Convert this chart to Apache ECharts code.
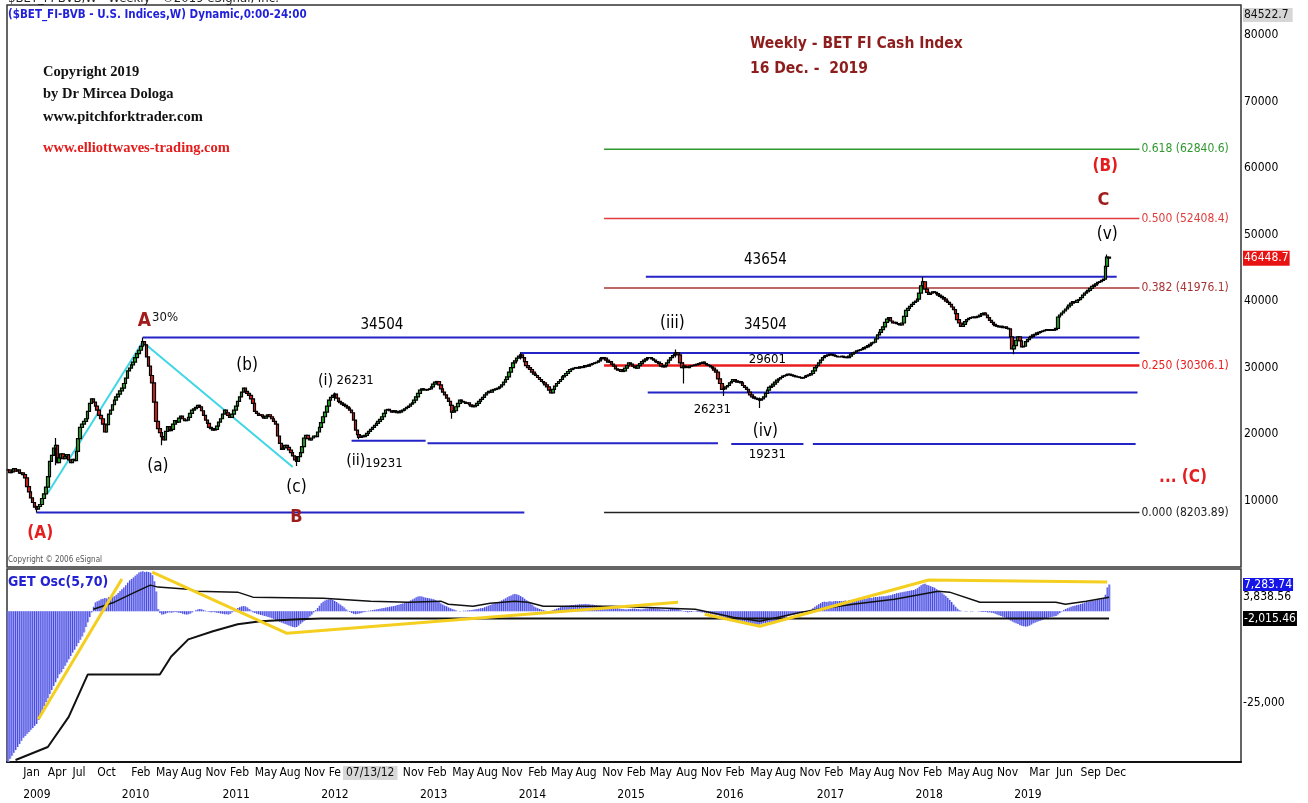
<!DOCTYPE html>
<html>
<head>
<meta charset="utf-8">
<title>BET FI Weekly</title>
<style>
  html, body { margin: 0; padding: 0; background: #fff; }
  #main { width: 1308px; height: 803px; }
</style>
</head>
<body>
<div id="main"></div>
<script src="https://cdn.jsdelivr.net/npm/echarts@6.0.0/dist/echarts.min.js"></script>
<script>
// weekly closes from 2008-11-07 to 2019-12-20
var closes = [
  14600,14200,14300,14800,14400,14600,14100,14150,13900,13400,
  12100,11300,10400,9700,9000,8700,9100,9400,10300,11000,
  12000,13600,15900,16800,17900,18300,15700,16400,17000,16300,
  16600,16900,16100,15700,16200,16000,17400,19300,21000,21500,
  21900,22300,23400,24600,25300,24800,24200,23600,22800,22300,
  21500,20300,21400,23000,23600,24400,25100,25600,26000,26500,
  26900,27600,28400,29500,29900,30400,30800,31500,32100,32600,
  33200,33900,33400,31600,30200,28800,27700,24800,21900,20800,
  20200,19600,19100,20400,21100,20500,20700,21500,22000,21800,
  22400,22700,22300,22000,22100,22500,23100,23600,23800,24000,
  24300,24100,23500,22800,22100,21600,21000,20800,20600,20700,
  21200,21800,22300,23000,23600,23200,22800,22500,23000,23600,
  24200,24900,25600,26300,26900,26400,26100,25800,25300,24600,
  23400,23100,22800,22900,22600,22400,22700,22900,22600,22300,
  21900,21500,19700,18600,17700,17900,18300,18000,17600,17200,
  16700,16100,15900,16600,17200,18100,19400,19800,19300,19100,
  19400,19700,19600,20300,21000,21700,22600,23300,24200,25100,
  25500,25800,26000,25400,24900,24700,24500,24300,24100,23900,
  23600,23200,22100,20600,19900,19500,19700,19600,19800,20100,
  20400,20700,21000,21300,21600,21900,22200,22600,23100,23600,
  23700,23500,23300,23500,23400,23200,23300,23500,23600,23800,
  24000,24200,24500,24700,25100,25600,26100,26600,26800,26700,
  26600,26700,26800,27100,27500,27800,27900,27400,26800,26300,
  25900,25400,24900,24300,23300,23500,24100,24600,25100,24900,
  24800,24600,24700,24400,24200,24100,24300,24600,24900,25200,
  25500,25900,26200,26400,26300,26600,26700,26800,26900,27100,
  27400,27800,28200,28600,29300,30000,30700,31000,31400,31700,
  31900,31500,30900,30300,30000,29700,29300,29000,28800,28500,
  28200,27900,27700,27400,27100,26600,26200,26700,27200,27600,
  27900,28200,28600,28800,29100,29400,29700,29800,29900,30000,
  29900,30100,30000,30100,30300,30200,30400,30500,30600,30700,
  30800,31000,31300,31500,31400,31100,30800,30900,30500,30200,
  29800,29600,29700,29400,29500,29900,30300,30700,30500,30200,
  30000,29900,30300,30600,30900,31100,31300,31500,31500,31300,
  31100,30900,30800,30600,30200,30100,30300,30700,31100,31500,
  31800,32000,32200,31900,30700,30000,30200,30100,30000,30200,
  30300,30300,30400,30500,30600,30700,30800,30600,30400,30300,
  30100,29900,29600,29300,28300,27600,26700,26800,27100,27300,
  27700,27900,28200,28000,27800,27900,27700,27300,27000,26700,
  26300,25900,25600,25400,25300,25200,25100,25300,25600,26100,
  26600,27000,27200,27500,27800,28100,28300,28500,28700,28800,
  28900,29000,28900,28800,28700,28600,28600,28500,28400,28500,
  28700,28800,28900,29100,29500,30000,30300,30700,31100,31500,
  31700,31800,31900,32000,31900,31800,31700,31600,31600,31700,
  31600,31500,31500,31700,32000,32200,32300,32500,32600,32700,
  32800,33000,33100,33300,33500,33700,33800,34300,34900,35300,
  35700,36100,36800,37300,37500,37000,36700,36800,36600,36500,
  36400,36700,37700,38600,38900,39200,39500,39800,40000,40300,
  41200,42300,42900,41800,41300,41000,41200,41400,41300,41100,
  40900,40700,40500,40300,40000,39800,39500,39100,38700,38100,
  37200,36700,36200,36500,36900,37200,37400,37500,37600,37500,
  37600,37700,37900,38100,38200,37900,37500,37100,36800,36500,
  36300,36200,36100,36200,36000,36100,35900,35800,34600,32800,
  33300,34100,34600,34000,33100,33200,33900,34200,34500,34700,
  34900,35000,35200,35300,35400,35500,35600,35700,35600,35700,
  35600,35700,35900,37600,37900,38200,38500,38800,39100,39400,
  39700,39900,39800,40100,40200,40500,40900,41200,41400,41600,
  41900,42200,42400,42600,42800,42900,43100,43300,45200,46600,46448.7
];

// long wicks that stick out of the line: [week, low, high]
var wicks = [
  [15, 8204, 9200], [25, 15300, 19400], [71, 32900, 34504], [81, 18300, 20300],
  [152, 15200, 16700], [172, 25000, 26231], [185, 19231, 20000], [234, 22300, 24500],
  [270, 31200, 32300], [352, 31500, 32700], [356, 27600, 30800], [377, 25700, 27400],
  [396, 23900, 25500], [482, 41900, 43654], [530, 32000, 34600], [579, 44800, 47000]
];

// GET Osc(5,70) histogram, one value per week
var oscHist = [
  -41200,-40300,-39500,-38700,-37900,-37100,-36300,-35400,-34600,-34100,
  -33500,-33000,-32400,-31900,-31300,-30800,-29700,-28400,-27100,-25900,
  -24800,-23800,-22600,-21500,-20400,-19400,-18300,-17200,-16700,-15800,
  -14900,-14000,-13100,-12200,-11300,-10500,-9600,-8700,-7800,-6900,
  -5800,-4300,-3000,-1600,-300,1200,2400,2700,2900,3300,
  3400,3600,3500,3800,3900,4000,4100,4500,5000,5500,
  6000,6500,7100,7800,8400,8800,9200,9700,10100,10600,
  10800,10900,10700,10800,10700,10500,9800,8200,5400,600,
  -500,-900,-800,-600,-400,-300,-400,-300,-200,-300,
  -400,-500,-700,-800,-900,-800,-600,-300,0,300,
  500,600,500,300,100,-100,-200,-300,-200,-300,
  -400,-500,-600,-700,-800,-800,-900,-700,-300,200,
  600,900,1100,1300,1400,1300,1000,600,200,-300,
  -500,-700,-800,-1000,-1100,-1300,-1400,-1600,-1700,-1900,
  -2100,-2400,-2700,-2900,-3100,-3300,-3500,-3700,-3900,-4100,
  -4300,-4400,-4300,-3900,-3400,-3000,-2600,-2200,-1800,-1400,
  -900,-300,300,900,1500,2200,2600,2900,3100,3200,
  3300,3100,2800,2500,2100,1800,1400,1000,500,100,
  -200,-500,-700,-800,-700,-600,-500,-300,-200,-100,
  100,200,300,400,500,600,700,800,900,1000,
  1100,1200,1300,1400,1500,1700,1800,2000,2100,2300,
  2400,2600,2900,3200,3500,3800,4000,4100,4000,3800,
  3700,3600,3500,3400,3300,3100,2800,2500,2100,1800,
  1500,1300,1000,800,600,400,200,0,-100,0,
  100,100,200,300,300,400,500,600,700,800,
  900,1100,1300,1500,1700,1900,2100,2300,2400,2600,
  2900,3200,3500,3800,4100,4300,4600,4700,4600,4400,
  4100,3800,3400,3000,2600,2200,1800,1300,1000,800,
  600,400,300,100,0,0,100,300,500,700,
  900,1100,1300,1400,1500,1500,1600,1700,1700,1800,
  1800,1900,1900,1900,2000,1900,1900,1800,1800,1700,
  1600,1500,1500,1400,1400,1300,1200,1100,1000,900,
  800,800,700,600,600,500,500,600,600,700,
  700,600,600,500,500,600,700,700,800,800,
  800,700,700,600,500,500,400,400,500,600,
  700,700,800,600,300,100,-100,-200,-300,-200,
  -200,-100,-100,-200,-200,-300,-300,-400,-500,-600,
  -700,-800,-900,-1000,-1100,-1300,-1500,-1700,-1700,-1900,
  -2000,-2100,-2200,-2300,-2400,-2500,-2600,-2700,-2900,-3100,
  -3300,-3400,-3500,-3600,-3600,-3700,-3600,-3400,-3300,-3200,
  -3100,-3000,-2900,-2800,-2700,-2600,-2400,-2200,-2000,-1800,
  -1500,-1300,-1100,-900,-800,-600,-500,-400,-300,-200,
  -100,0,0,400,800,1200,1600,1900,2200,2500,
  2600,2500,2600,2700,2600,2700,2800,2700,2800,2700,
  2800,2900,2800,3000,3100,3000,3100,3200,3300,3300,
  3400,3500,3400,3600,3700,3600,3800,3900,3900,4000,
  4000,4100,4100,4200,4300,4400,4600,4700,4900,5000,
  5100,5200,5300,5400,5500,5600,5700,5800,6000,6300,
  6700,7100,7400,7500,7200,7000,6800,6600,6400,6000,
  5600,5200,4900,4500,4100,3600,3100,2500,1800,1200,
  700,300,100,0,-100,-100,0,-100,-100,0,
  0,-100,-100,-200,-200,-200,-300,-300,-400,-500,
  -700,-900,-1100,-1300,-1500,-1700,-1900,-2200,-2500,-2800,
  -3100,-3300,-3500,-3800,-4000,-4100,-4200,-4100,-3900,-3600,
  -3300,-3100,-2900,-2700,-2500,-2300,-2100,-1900,-1700,-1600,
  -1500,-1400,-1300,-900,-500,-100,300,600,800,1000,
  1200,1400,1500,1700,1800,2000,2100,2300,2500,2600,
  2700,2800,2900,3000,3100,3200,3300,3500,4500,6500,7283.74
];

// the two black oscillator lines, [week, value] at their turns
var oscUpper = [[45,550],[56,2470],[67,5220],[75,7140],[79,6590],[95,6040],[99,5490],[121,5220],
  [129,3850],[166,3570],[191,2750],[211,2470],[228,2750],[232,1920],[245,1370],[254,2200],
  [267,2750],[274,2470],[282,1370],[318,1370],[333,1100],[362,550],[382,-1650],[396,-2750],
  [418,-270],[427,550],[445,1920],[467,3300],[490,5490],[496,5220],[512,2470],[552,2470],
  [557,1920],[568,2750],[580,3838.56]];
var oscLower = [[4,-40660],[21,-37090],[32,-28850],[42,-17310],[80,-17310],[86,-12360],[95,-7690],
  [108,-5490],[121,-3570],[133,-2750],[153,-2200],[165,-2015.46],[580,-2015.46]];

// yellow trend lines on the oscillator
var oscTrends = [
  [[16,-29500],[60,8800]],
  [[76,10710],[147,-6040],[353,2470]],
  [[367,-820],[396,-4120],[485,8520],[579,7970]]
];

// fibonacci levels
var fibLevels = [['0.618',62840.6],['0.500',52408.4],['0.382',41976.1],['0.250',30306.1],['0.000',8203.89]];
var fibWeeks = [314, 596];

// blue support / resistance lines: [from week, to week, value]
var blueLines = [[15,272,8204],[71,596,34504],[270,596,32190],[337,595,26231],[336,584,43654],
  [181,220,19000],[221,374,18600],[381,419,18500],[424,594,18500]];

// zigzag of the first leg
var zigzag = [[21,11130],[71,33840],[150,15040]];

// wave counts and numbers: [text, week, value]
var waveLabels = [
  ['A30%',79,37000],['34504',197,36400],['34504',399,36400],['(iii)',350,36550],
  ['43654',399,46170],['29601',400,31130],['26231',371,23610],['(iv)',399,20300],
  ['19231',400,16840],['(b)',126,30230],['(a)',79,15040],['(c)',152,11880],
  ['B',152,7520],['(A)',17,4960],['(i) 26231',178,27970],['(ii)19231',193,15940],
  ['(v)',579,49930],['C',577,55200],['(B)',578,60160],['... (C)',619,13390]
];

var monthTicks = ['2009-01','2009-04','2009-07','2009-10',
  '2010-02','2010-05','2010-08','2010-11','2011-02','2011-05','2011-08','2011-11',
  '2012-02','2012-11','2013-02','2013-05','2013-08','2013-11','2014-02','2014-05','2014-08','2014-11',
  '2015-02','2015-05','2015-08','2015-11','2016-02','2016-05','2016-08','2016-11',
  '2017-02','2017-05','2017-08','2017-11','2018-02','2018-05','2018-08','2018-11',
  '2019-03','2019-06','2019-09','2019-12'];
var yearTicks = ['2009','2010','2011','2012','2013','2014','2015','2016','2017','2018','2019'];
var monthNames = ['Jan','Feb','Mar','Apr','May','Jun','Jul','Aug','Sep','Oct','Nov','Dec'];

var FONT = '"Liberation Sans Narrow", "DejaVu Sans Condensed", "Liberation Sans", Arial, sans-serif';
var N_WEEKS = 650;
var weeks = [];
var start = Date.UTC(2008, 10, 7);
for (var i = 0; i < N_WEEKS; i++) {
  weeks.push(new Date(start + i * 7 * 86400000).toISOString().slice(0, 10));
}

// first week of each labelled month / year
var monthIdx = {}, yearIdx = {};
for (var i = 0; i < weeks.length; i++) {
  var ym = weeks[i].slice(0, 7), prev = i ? weeks[i - 1].slice(0, 7) : '';
  if (ym === prev) continue;
  if (monthTicks.indexOf(ym) >= 0) {
    monthIdx[i] = ym === '2012-02' ? 'Fe' : monthNames[+ym.slice(5) - 1];
  }
  if (ym.slice(5) === '01' && yearTicks.indexOf(ym.slice(0, 4)) >= 0) yearIdx[i] = ym.slice(0, 4);
}

var wickMap = {};
wicks.forEach(function (w) { wickMap[w[0]] = w; });
var ohlc = [];
for (var i = 0; i < closes.length; i++) {
  var o = i ? closes[i - 1] : closes[0], c = closes[i];
  var lo = Math.min(o, c), hi = Math.max(o, c);
  if (wickMap[i]) { lo = Math.min(lo, wickMap[i][1]); hi = Math.max(hi, wickMap[i][2]); }
  ohlc.push([o, c, lo, hi]);
}

var fibColors = { '0.618': '#2f982f', '0.500': '#e03c3c', '0.382': '#a83434', '0.250': '#ea1c1c', '0.000': '#222' };
var redLabels = ['(A)', '(B)', '... (C)'];
var darkRedLabels = ['B', 'C'];
var smallNumbers = ['29601', '26231', '19231'];

function labelStyle(t) {
  if (t === 'A30%') return { formatter: '{a|A}{b|30%}', rich: {
    a: { color: '#a31b1b', fontSize: 19, fontWeight: 'bold', fontFamily: FONT },
    b: { color: '#111', fontSize: 13, fontFamily: FONT, padding: [0, 0, 6, 1] } } };
  if (t === '(i) 26231') return { formatter: '{a|(i)} {b|26231}', rich: {
    a: { color: '#000', fontSize: 16, fontFamily: FONT },
    b: { color: '#000', fontSize: 13, fontFamily: FONT } } };
  if (t === '(ii)19231') return { formatter: '{a|(ii)}{b|19231}', rich: {
    a: { color: '#000', fontSize: 16, fontFamily: FONT },
    b: { color: '#000', fontSize: 13, fontFamily: FONT, padding: [6, 0, 0, 0] } } };
  if (redLabels.indexOf(t) >= 0) return { color: '#e41e1e', fontSize: 17, fontWeight: 'bold' };
  if (darkRedLabels.indexOf(t) >= 0) return { color: '#9e1c1c', fontSize: 18, fontWeight: 'bold' };
  if (smallNumbers.indexOf(t) >= 0) return { color: '#000', fontSize: 13 };
  if (t.charAt(0) === '(') return { color: '#000', fontSize: 17 };
  return { color: '#000', fontSize: 15 };
}

var series = [];

// horizontal levels
blueLines.forEach(function (b) {
  series.push({ type: 'line', xAxisIndex: 0, yAxisIndex: 0, silent: true, showSymbol: false, z: 1,
    data: [[b[0], b[2]], [b[1], b[2]]], lineStyle: { color: '#2323c6', width: 2 } });
});
fibLevels.forEach(function (f) {
  series.push({ type: 'line', xAxisIndex: 0, yAxisIndex: 0, silent: true, showSymbol: false, z: 1,
    data: [[fibWeeks[0], f[1]], [fibWeeks[1], f[1]]],
    lineStyle: { color: fibColors[f[0]], width: f[0] === '0.250' ? 2.5 : 1.5 },
    endLabel: { show: true, distance: 2, formatter: f[0] + ' (' + f[1] + ')', color: fibColors[f[0]], fontSize: 12, fontFamily: FONT } });
});
series.push({ type: 'line', xAxisIndex: 0, yAxisIndex: 0, silent: true, showSymbol: false, z: 1,
  data: zigzag, lineStyle: { color: '#3fd6e6', width: 2 } });

series.push({
  type: 'candlestick', xAxisIndex: 0, yAxisIndex: 0, data: ohlc, barWidth: 3, z: 3,
  itemStyle: { color: '#24a524', color0: '#d62020', borderColor: '#000', borderColor0: '#000', borderWidth: 1.2 },
  markLine: { silent: true, symbol: ['none', 'none'], lineStyle: { color: 'rgba(0,0,0,0)' },
    data: [{ yAxis: 46448.7, label: { formatter: '46448.7', backgroundColor: '#e81212', color: '#fff', padding: [2, 1, 1, 1] } }],
    label: { position: 'end', distance: 2, fontSize: 12, fontFamily: FONT } }
});

series.push({
  type: 'scatter', xAxisIndex: 0, yAxisIndex: 0, symbolSize: 1, silent: true, z: 5,
  itemStyle: { color: 'rgba(0,0,0,0)', opacity: 1 },
  label: { show: true, position: 'inside', fontFamily: FONT },
  data: waveLabels.map(function (w) {
    var s = labelStyle(w[0]);
    if (!s.formatter) s.formatter = w[0];
    s.show = true; s.position = 'inside'; s.fontFamily = FONT;
    return { value: [w[1], w[2]], label: s };
  })
});

// oscillator
series.push({ type: 'bar', xAxisIndex: 1, yAxisIndex: 1, data: oscHist, barWidth: 2, barGap: '-100%',
  silent: true, itemStyle: { color: '#aab0f4' },
  markLine: { silent: true, symbol: ['none', 'none'], lineStyle: { color: 'rgba(0,0,0,0)' },
    label: { position: 'end', distance: 2, fontSize: 12, fontFamily: FONT },
    data: [
      { yAxis: 7283.74, label: { formatter: '7,283.74', backgroundColor: '#1515e8', color: '#fff', padding: [1, 1, 0, 1] } },
      { yAxis: 3838.56, label: { formatter: '3,838.56', color: '#000' } },
      { yAxis: -2015.46, label: { formatter: '-2,015.46', backgroundColor: '#000', color: '#fff', padding: [2, 1, 1, 1] } },
      { yAxis: -25000, label: { formatter: '-25,000', color: '#000' } }
    ] } });
series.push({ type: 'bar', xAxisIndex: 1, yAxisIndex: 1, data: oscHist, barWidth: 1, barGap: '-100%',
  silent: true, itemStyle: { color: '#4848e2' } });
series.push({ type: 'line', xAxisIndex: 1, yAxisIndex: 1, data: oscUpper, showSymbol: false, silent: true,
  lineStyle: { color: '#111', width: 1.5 } });
series.push({ type: 'line', xAxisIndex: 1, yAxisIndex: 1, data: oscLower, showSymbol: false, silent: true,
  lineStyle: { color: '#111', width: 2 } });
oscTrends.forEach(function (t) {
  series.push({ type: 'line', xAxisIndex: 1, yAxisIndex: 1, data: t, showSymbol: false, silent: true,
    lineStyle: { color: '#f4cf1f', width: 3 } });
});

var chart = echarts.init(document.getElementById('main'));
chart.setOption({
  animation: false,
  backgroundColor: '#fff',
  textStyle: { fontFamily: FONT },
  grid: [
    { left: 7, top: 5, width: 1234, height: 562, show: true, borderColor: '#333', borderWidth: 1.5 },
    { left: 7, top: 569, width: 1234, height: 193, show: true, borderColor: '#333', borderWidth: 1.5 }
  ],
  xAxis: [
    { type: 'category', gridIndex: 0, data: weeks, axisLine: { show: false }, axisTick: { show: false },
      axisLabel: { show: false }, splitLine: { show: false } },
    { type: 'category', gridIndex: 1, data: weeks,
      axisLine: { show: true, onZero: false, lineStyle: { color: '#111', width: 2 } },
      axisTick: { show: false }, splitLine: { show: false },
      axisLabel: { align: 'left', margin: 5, color: '#000', fontSize: 12, fontFamily: FONT,
        interval: function (idx) { return monthIdx[idx] !== undefined; },
        formatter: function (v, idx) { return monthIdx[idx] || ''; } } },
    { type: 'category', gridIndex: 1, data: weeks, position: 'bottom', offset: 22,
      axisLine: { show: false, onZero: false }, axisTick: { show: false }, splitLine: { show: false },
      axisLabel: { align: 'left', margin: 5, color: '#000', fontSize: 12, fontFamily: FONT,
        interval: function (idx) { return yearIdx[idx] !== undefined; },
        formatter: function (v, idx) { return yearIdx[idx] || ''; } } }
  ],
  yAxis: [
    { type: 'value', gridIndex: 0, position: 'right', min: 0, max: 84522.7, interval: 10000,
      splitLine: { show: false }, axisLine: { show: false }, axisTick: { show: false },
      axisLabel: { margin: 3, color: '#000', fontSize: 12, fontFamily: FONT,
        formatter: function (v) { return (v > 0 && v % 10000 === 0) ? String(v) : ''; } } },
    { type: 'value', gridIndex: 1, position: 'right', min: -41200, max: 11540,
      splitLine: { show: false }, axisLine: { show: false }, axisTick: { show: false }, axisLabel: { show: false } }
  ],
  graphic: [
    { type: 'text', x: 8, y: -8, style: { text: '$BET_FI-BVB,W - Weekly - \u00a92019 eSignal, Inc.', font: '13px ' + FONT, fill: '#222' } },
    { type: 'text', x: 8, y: 9, style: { text: '($BET_FI-BVB - U.S. Indices,W) Dynamic,0:00-24:00', font: 'bold 11.5px ' + FONT, fill: '#1f1fdc' } },
    { type: 'text', x: 43, y: 65, style: { text: 'Copyright 2019', font: 'bold 14.5px "Liberation Serif", serif', fill: '#111' } },
    { type: 'text', x: 43, y: 87, style: { text: 'by Dr Mircea Dologa', font: 'bold 14.5px "Liberation Serif", serif', fill: '#111' } },
    { type: 'text', x: 43, y: 110, style: { text: 'www.pitchforktrader.com', font: 'bold 14.5px "Liberation Serif", serif', fill: '#111' } },
    { type: 'text', x: 43, y: 141, style: { text: 'www.elliottwaves-trading.com', font: 'bold 14.5px "Liberation Serif", serif', fill: '#e41c1c' } },
    { type: 'text', x: 750, y: 36, style: { text: 'Weekly - BET FI Cash Index', font: 'bold 15.5px ' + FONT, fill: '#8e1d1d' } },
    { type: 'text', x: 750, y: 61, style: { text: '16 Dec. -  2019', font: 'bold 15.5px ' + FONT, fill: '#8e1d1d' } },
    { type: 'text', x: 8, y: 556, style: { text: 'Copyright \u00a9 2006 eSignal', font: '8px ' + FONT, fill: '#555' } },
    { type: 'text', x: 8, y: 575, style: { text: 'GET Osc(5,70)', font: 'bold 14px ' + FONT, fill: '#2323d4' } },
    { type: 'text', x: 1243, y: 8, style: { text: '84522.7', font: '12px ' + FONT, fill: '#111', backgroundColor: '#d6d6d6', padding: [1, 4, 1, 1] } },
    { type: 'text', x: 343, y: 766, style: { text: '07/13/12', font: '12px ' + FONT, fill: '#111', backgroundColor: '#d8d8d8', padding: [1, 3, 1, 3] } }
  ],
  series: series
});
</script>
</body>
</html>
